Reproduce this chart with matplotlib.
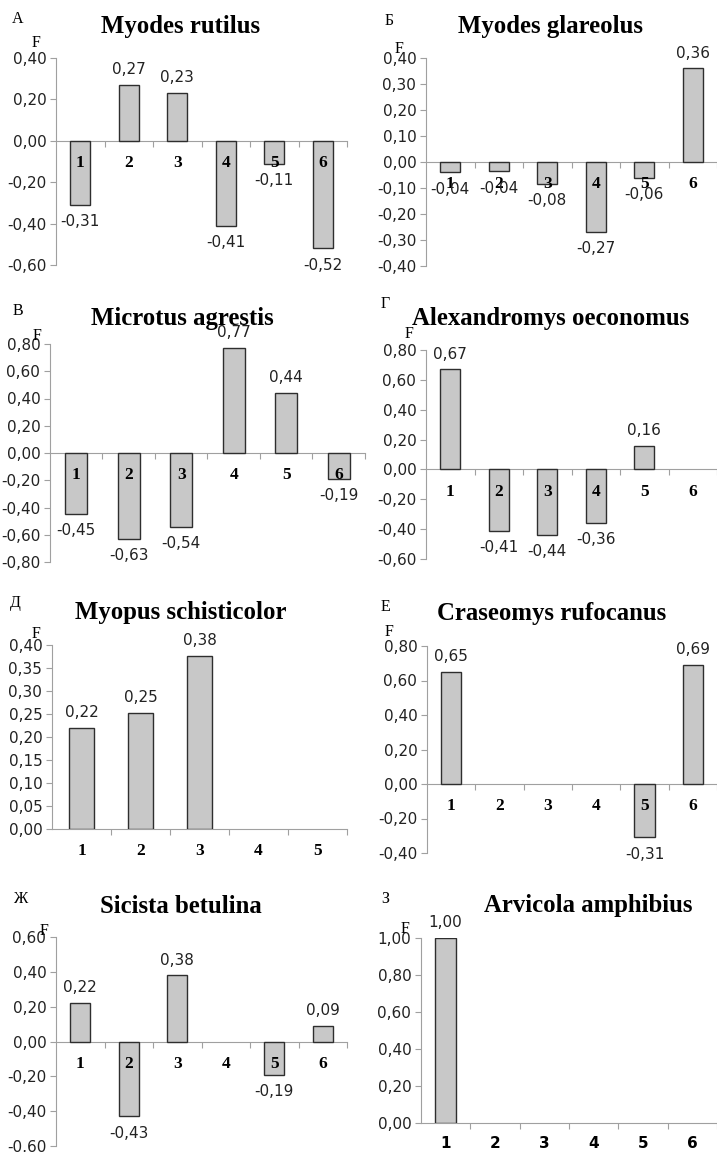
import matplotlib
matplotlib.use("Agg")
import matplotlib.pyplot as plt
import numpy as np

W, H = 717, 1152

# ---- data ----
letters = ["А", "Б", "В", "Г", "Д", "Е", "Ж", "З"]
titles = ["Myodes rutilus", "Myodes glareolus", "Microtus agrestis",
          "Alexandromys oeconomus", "Myopus schisticolor", "Craseomys rufocanus",
          "Sicista betulina", "Arvicola amphibius"]

cats6 = ["1", "2", "3", "4", "5", "6"]
cats5 = ["1", "2", "3", "4", "5"]

rutilus = [-0.31, 0.27, 0.23, -0.41, -0.11, -0.52]
glareolus = [-0.04, -0.036, -0.083, -0.27, -0.06, 0.36]
agrestis = [-0.45, -0.63, -0.54, 0.77, 0.44, -0.19]
oeconomus = [0.67, -0.41, -0.44, -0.36, 0.16, None]
schisticolor = [0.22, 0.253, 0.376, None, None]
rufocanus = [0.65, None, None, None, -0.31, 0.69]
betulina = [0.22, -0.43, 0.38, None, -0.19, 0.09]
amphibius = [1.00, None, None, None, None, None]

series = [rutilus, glareolus, agrestis, oeconomus,
          schisticolor, rufocanus, betulina, amphibius]
categories = [cats6, cats6, cats6, cats6, cats5, cats6, cats6, cats6]

# y axis ranges: (min, max, step)
yranges = [(-0.6, 0.4, 0.2), (-0.4, 0.4, 0.1), (-0.8, 0.8, 0.2), (-0.6, 0.8, 0.2),
           (0.0, 0.4, 0.05), (-0.4, 0.8, 0.2), (-0.6, 0.6, 0.2), (0.0, 1.0, 0.2)]

# ---- layout, in pixels of the 717x1152 picture ----
# axes box: left, top, right, bottom
boxes = [(56, 58, 347, 265), (426, 58, 717, 266),
         (50, 344, 365, 562), (426, 350, 717, 559),
         (52, 645, 347, 829), (427, 646, 717, 853),
         (56, 937, 347, 1146), (421, 938, 717, 1123)]
title_pos = [(181, 33), (551, 33), (182, 325), (551, 325),
             (181, 619), (552, 620), (181, 913), (588, 912)]
letter_pos = [(12, 23), (385, 25), (13, 315), (381, 308),
              (10, 607), (381, 611), (13, 903), (381, 903)]
f_pos = [(32, 47), (395, 53), (33, 340), (405, 338),
         (32, 638), (385, 636), (40, 935), (401, 933)]

SERIF = "Liberation Serif"
SANS = "DejaVu Sans"
BAR = "#c8c8c8"
EDGE = "#2e2e2e"
AXIS = "#a0a0a0"


def fx(px):
    return px / W


def fy(py):
    return 1 - py / H


def fmt(v):
    v = round(v, 2) + 0.0
    if v == 0:
        v = 0.0
    return f"{abs(v):.2f}".replace(".", ",") if v == 0 else f"{v:.2f}".replace(".", ",")


fig = plt.figure(figsize=(W / 100, H / 100), dpi=100)

for i in range(8):
    l, t, r, b = boxes[i]
    ax = fig.add_axes([fx(l), fy(b), (r - l) / W, (b - t) / H])
    cats = categories[i]
    vals = series[i]
    n = len(cats)
    xs = np.arange(1, n + 1)

    bx = [x for x, v in zip(xs, vals) if v is not None]
    bv = [v for v in vals if v is not None]
    ax.bar(bx, bv, width=0.42, color=BAR, edgecolor=EDGE, linewidth=1.0, zorder=3)

    ymin, ymax, step = yranges[i]
    ax.set_xlim(0.5, n + 0.5)
    ax.set_ylim(ymin, ymax)
    ticks = np.round(np.arange(ymin, ymax + step / 2, step), 2)
    ax.set_yticks(ticks)
    ax.set_yticklabels([fmt(v) for v in ticks], fontsize=11, family=SANS, color="#222222")
    ax.set_xticks(np.arange(1.5, n + 1, 1.0))
    ax.set_xticklabels([])

    for s in ["top", "right"]:
        ax.spines[s].set_visible(False)
    ax.spines["left"].set_color(AXIS)
    ax.spines["bottom"].set_color(AXIS)
    ax.spines["bottom"].set_position(("data", 0))
    ax.tick_params(axis="y", length=4, color=AXIS, pad=3)
    ax.tick_params(axis="x", length=4, color=AXIS, direction="out")
    ax.patch.set_alpha(0)

    # category numbers just under the zero line
    for x, c in zip(xs, cats):
        if i == 7:
            ax.annotate(c, (x, 0), xytext=(0, -15), textcoords="offset points",
                        ha="center", va="center", fontsize=11, fontweight="bold",
                        family=SANS, annotation_clip=False, zorder=4)
        else:
            ax.annotate(c, (x, 0), xytext=(0, -16), textcoords="offset points",
                        ha="center", va="center", fontsize=12.5, fontweight="bold",
                        family=SERIF, annotation_clip=False, zorder=4)

    # value labels
    for x, v in zip(bx, bv):
        off = 11 if v >= 0 else -12
        ax.annotate(fmt(v), (x, v), xytext=(0, off), textcoords="offset points",
                    ha="center", va="center", fontsize=11, family=SANS,
                    color="#222222", annotation_clip=False, zorder=4)

    tx, ty = title_pos[i]
    fig.text(fx(tx), fy(ty), titles[i], ha="center", va="baseline",
             fontsize=17.8, fontweight="bold", family=SERIF)
    lx, ly = letter_pos[i]
    fig.text(fx(lx), fy(ly), letters[i], ha="left", va="baseline",
             fontsize=11.5, family=SERIF)
    px_, py_ = f_pos[i]
    fig.text(fx(px_), fy(py_), "F", ha="left", va="baseline",
             fontsize=11.5, family=SERIF)

fig.savefig("out.png", dpi=100, facecolor="white")
